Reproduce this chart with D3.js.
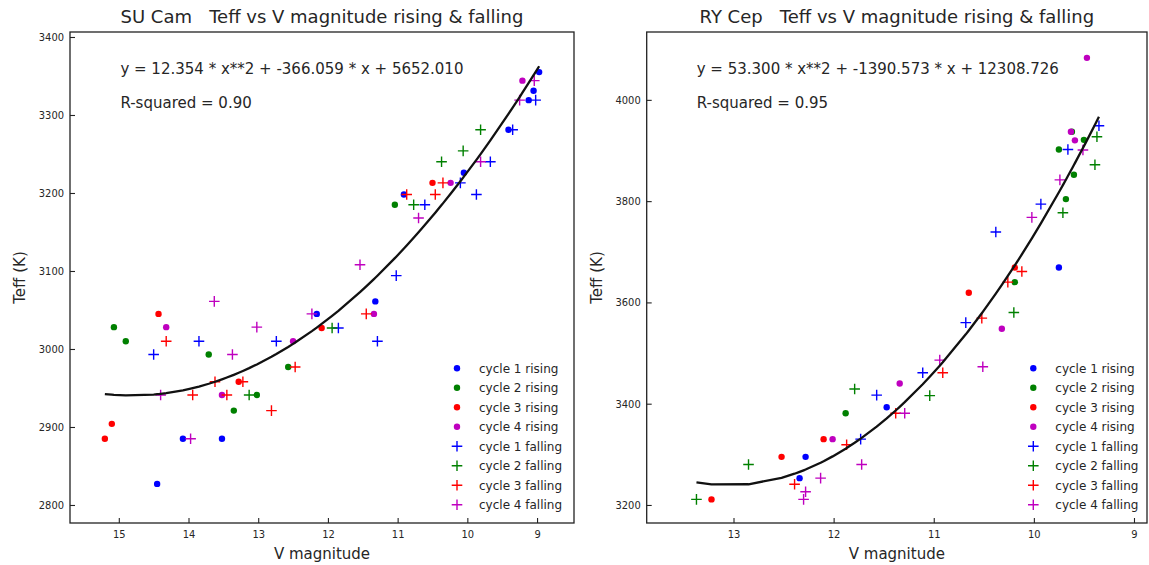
<!DOCTYPE html>
<html>
<head>
<meta charset="utf-8">
<script src="https://cdn.jsdelivr.net/npm/d3@7"></script>
<style>
  html, body { margin: 0; padding: 0; background: #fff; }
  svg { display: block; font-family: "DejaVu Sans", sans-serif; }
  text { white-space: pre; }
</style>
</head>
<body>
<svg id="chart" width="1149" height="565"></svg>
<script>
// ---- SU Cam: [V magnitude, Teff] per cycle ----
const suCamC1Rise = [[8.97,3355],[9.05,3331],[9.12,3319],[9.41,3281],[10.05,3226],[10.91,3198],[11.32,3061],[12.16,3045],[14.08,2885],[13.52,2885],[14.45,2827]];
const suCamC2Rise = [[11.04,3185],[15.07,3028],[14.90,3010],[13.71,2993],[12.57,2977],[13.02,2941],[13.35,2921]];
const suCamC3Rise = [[10.50,3213],[12.09,3027],[14.43,3045],[13.28,2958],[15.10,2904],[15.20,2885]];
const suCamC4Rise = [[9.21,3344],[10.24,3213],[11.34,3045],[14.32,3028],[12.50,3010],[13.52,2941]];
const suCamC1Fall = [[9.02,3319],[9.35,3281],[9.67,3240],[10.10,3213],[9.87,3198],[10.61,3185],[11.02,3094],[11.85,3027],[11.29,3010],[14.50,2993],[13.85,3010],[12.74,3010]];
const suCamC2Fall = [[9.81,3281],[10.06,3254],[10.37,3240],[10.77,3185],[11.94,3027],[13.13,2941]];
const suCamC3Fall = [[10.35,3213],[10.87,3198],[10.46,3198],[11.45,3045],[14.32,3010],[12.47,2977],[13.62,2958],[13.22,2958],[13.94,2941],[13.45,2941],[12.81,2921]];
const suCamC4Fall = [[9.04,3344],[9.25,3319],[9.81,3240],[10.70,3168],[11.54,3108],[12.23,3045],[13.63,3061],[13.37,2993],[13.02,3028],[14.40,2941],[13.97,2885]];
const suCamFit = [12.354, -366.059, 5652.010];   // a*x^2 + b*x + c
const suCamR2 = 0.90;
const suCamXTicks = [15, 14, 13, 12, 11, 10, 9];
const suCamYTicks = [2800, 2900, 3000, 3100, 3200, 3300, 3400];

// ---- RY Cep: [V magnitude, Teff] per cycle ----
const ryCepC1Rise = [[9.75,3669],[11.47,3393],[12.28,3295],[12.34,3253]];
const ryCepC2Rise = [[9.62,3937],[9.50,3921],[9.75,3902],[9.60,3852],[9.68,3804],[10.19,3640],[11.88,3381]];
const ryCepC3Rise = [[10.19,3669],[10.65,3619],[12.10,3330],[12.52,3295],[13.22,3211]];
const ryCepC4Rise = [[9.47,4083],[9.63,3937],[9.59,3920],[10.32,3548],[11.34,3440],[12.01,3330]];
const ryCepC1Fall = [[9.35,3949],[9.66,3902],[9.93,3794],[10.38,3739],[10.68,3560],[11.11,3461],[11.57,3417],[11.73,3330]];
const ryCepC2Fall = [[9.37,3927],[9.39,3872],[9.71,3777],[10.20,3580],[11.04,3416],[11.79,3429],[12.85,3280],[13.37,3211]];
const ryCepC3Fall = [[10.12,3661],[10.26,3640],[10.52,3569],[10.91,3461],[11.38,3381],[11.87,3319],[12.39,3241]];
const ryCepC4Fall = [[9.51,3901],[9.74,3842],[10.02,3768],[10.51,3473],[10.94,3486],[11.29,3381],[11.72,3280],[12.13,3253],[12.28,3226],[12.30,3211]];
const ryCepFit = [53.300, -1390.573, 12308.726];
const ryCepR2 = 0.95;
const ryCepXTicks = [13, 12, 11, 10, 9];
const ryCepYTicks = [3200, 3400, 3600, 3800, 4000];

const seriesLabels = ["cycle 1 rising", "cycle 2 rising", "cycle 3 rising", "cycle 4 rising",
                      "cycle 1 falling", "cycle 2 falling", "cycle 3 falling", "cycle 4 falling"];
const seriesColors = ["#0000ff", "#008000", "#ff0000", "#bf00bf", "#0000ff", "#008000", "#ff0000", "#bf00bf"];
const seriesShapes = ["dot", "dot", "dot", "dot", "plus", "plus", "plus", "plus"];

const svg = d3.select("#chart");
svg.append("rect").attr("width", 1149).attr("height", 565).attr("fill", "#fff");

const plusPath = "M-5.3,0H5.3M0,-5.3V5.3";
const textColor = "#262626";

function fmt3(v) { return v.toFixed(3); }

function drawPanel(cfg) {
  const x = d3.scaleLinear().domain(cfg.xDomain).range([cfg.x0, cfg.x1]);
  const y = d3.scaleLinear().domain(cfg.yDomain).range([cfg.y1, cfg.y0]);
  const g = svg.append("g");

  // axes with inward ticks
  const xAxis = d3.axisBottom(x).tickValues(cfg.xTicks).tickFormat(d3.format("d"))
    .tickSizeInner(-5).tickSizeOuter(0).tickPadding(7);
  const yAxis = d3.axisLeft(y).tickValues(cfg.yTicks).tickFormat(d3.format("d"))
    .tickSizeInner(-5).tickSizeOuter(0).tickPadding(6);

  const gx = g.append("g").attr("transform", `translate(0,${cfg.y1})`).call(xAxis);
  const gy = g.append("g").attr("transform", `translate(${cfg.x0},0)`).call(yAxis);
  [gx, gy].forEach(a => {
    a.select(".domain").remove();
    a.selectAll(".tick line").attr("stroke", "#222").attr("stroke-width", 1.1);
    a.selectAll(".tick text").attr("fill", textColor).style("font-size", "11px")
      .style("font-family", "'DejaVu Sans Condensed', 'DejaVu Sans', sans-serif")
      .style("font-stretch", "condensed");
  });

  // markers
  const clipId = "clip" + cfg.id;
  svg.append("clipPath").attr("id", clipId).append("rect")
    .attr("x", cfg.x0).attr("y", cfg.y0).attr("width", cfg.x1 - cfg.x0).attr("height", cfg.y1 - cfg.y0);
  const plot = g.append("g").attr("clip-path", `url(#${clipId})`);

  cfg.series.forEach((pts, i) => {
    const sg = plot.append("g");
    if (seriesShapes[i] === "dot") {
      sg.selectAll("circle").data(pts).join("circle")
        .attr("cx", d => x(d[0])).attr("cy", d => y(d[1])).attr("r", 3.2)
        .attr("fill", seriesColors[i]);
    } else {
      sg.selectAll("path").data(pts).join("path")
        .attr("transform", d => `translate(${x(d[0])},${y(d[1])})`)
        .attr("d", plusPath).attr("stroke", seriesColors[i]).attr("stroke-width", 1.4).attr("fill", "none");
    }
  });

  // quadratic fit evaluated at the observed magnitudes
  const allX = Array.from(new Set(cfg.series.flat().map(d => d[0]))).sort((a, b) => a - b);
  const [a, b, c] = cfg.fit;
  const fitPts = allX.map(v => [v, a * v * v + b * v + c]);
  plot.append("path").datum(fitPts)
    .attr("d", d3.line().x(d => x(d[0])).y(d => y(d[1])))
    .attr("fill", "none").attr("stroke", "#111").attr("stroke-width", 2.3)
    .attr("stroke-linejoin", "round");

  // frame
  g.append("rect").attr("x", cfg.x0).attr("y", cfg.y0)
    .attr("width", cfg.x1 - cfg.x0).attr("height", cfg.y1 - cfg.y0)
    .attr("fill", "none").attr("stroke", "#222").attr("stroke-width", 1.3);

  // fit annotation
  const tx = cfg.x0 + 0.1 * (cfg.x1 - cfg.x0);
  g.append("text").attr("x", tx).attr("y", 74).attr("fill", textColor).style("font-size", "15px")
    .text(`y = ${fmt3(a)} * x**2 + ${fmt3(b)} * x + ${fmt3(c)}`);
  g.append("text").attr("x", tx).attr("y", 108).attr("fill", textColor).style("font-size", "15px")
    .text(`R-squared = ${cfg.r2.toFixed(2)}`);

  // title and axis labels
  const cx = (cfg.x0 + cfg.x1) / 2;
  g.append("text").attr("x", cx).attr("y", 23).attr("text-anchor", "middle")
    .attr("fill", textColor).style("font-size", "18px").text(cfg.title);
  g.append("text").attr("x", cx).attr("y", 559).attr("text-anchor", "middle")
    .attr("fill", textColor).style("font-size", "15px").text("V magnitude");
  g.append("text").attr("transform", `translate(${cfg.x0 - 45},${(cfg.y0 + cfg.y1) / 2}) rotate(-90)`)
    .attr("text-anchor", "middle").attr("fill", textColor).style("font-size", "15px").text("Teff (K)");

  // legend
  const lg = g.append("g");
  seriesLabels.forEach((lab, i) => {
    const ly = 368.3 + i * 19.5;
    if (seriesShapes[i] === "dot") {
      lg.append("circle").attr("cx", cfg.legX).attr("cy", ly).attr("r", 3.2).attr("fill", seriesColors[i]);
    } else {
      lg.append("path").attr("transform", `translate(${cfg.legX},${ly})`).attr("d", plusPath)
        .attr("stroke", seriesColors[i]).attr("stroke-width", 1.4).attr("fill", "none");
    }
    lg.append("text").attr("x", cfg.legX + 22).attr("y", ly + 4.3).attr("fill", textColor)
      .style("font-size", "12px").text(lab);
  });
}

drawPanel({
  id: "su", title: "SU Cam   Teff vs V magnitude rising & falling",
  x0: 70, x1: 574, y0: 32, y1: 523,
  xDomain: [15.70, 8.47], yDomain: [2776.9, 3406.4],
  xTicks: suCamXTicks, yTicks: suCamYTicks,
  series: [suCamC1Rise, suCamC2Rise, suCamC3Rise, suCamC4Rise, suCamC1Fall, suCamC2Fall, suCamC3Fall, suCamC4Fall],
  fit: suCamFit, r2: suCamR2, legX: 457
});

drawPanel({
  id: "ry", title: "RY Cep   Teff vs V magnitude rising & falling",
  x0: 646.7, x1: 1147, y0: 32, y1: 523,
  xDomain: [13.867, 8.87], yDomain: [3164.4, 4134],
  xTicks: ryCepXTicks, yTicks: ryCepYTicks,
  series: [ryCepC1Rise, ryCepC2Rise, ryCepC3Rise, ryCepC4Rise, ryCepC1Fall, ryCepC2Fall, ryCepC3Fall, ryCepC4Fall],
  fit: ryCepFit, r2: ryCepR2, legX: 1033.3
});
</script>
</body>
</html>
